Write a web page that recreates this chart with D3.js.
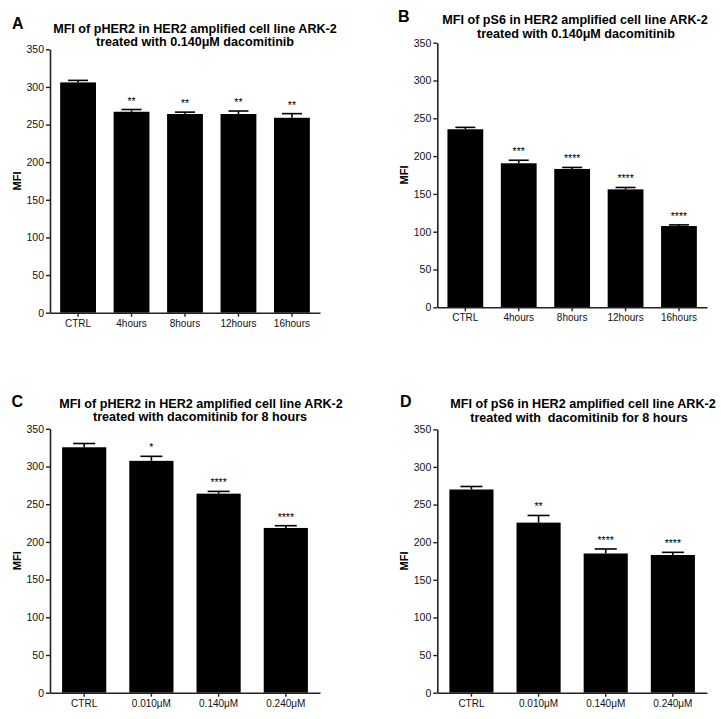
<!DOCTYPE html>
<html>
<head>
<meta charset="utf-8">
<script src="https://cdn.jsdelivr.net/npm/d3@7"></script>
<style>
  html, body { margin: 0; padding: 0; background: #fff; }
  svg { display: block; }
  text { font-family: "Liberation Sans", Arial, sans-serif; -webkit-font-smoothing: antialiased; }
</style>
</head>
<body>
<svg id="chart" width="721" height="719"></svg>
<script>
// ---------- data ----------
const catsTime = ["CTRL", "4hours", "8hours", "12hours", "16hours"];
const catsDose = ["CTRL", "0.010\u03BCM", "0.140\u03BCM", "0.240\u03BCM"];
const yTicks = [0, 50, 100, 150, 200, 250, 300, 350];

const valuesA = [306, 267, 264, 264, 259];
const errorsA = [2.7, 3, 2.5, 4, 5.5];
const starsA = ["", "**", "**", "**", "**"];

const valuesB = [235.5, 190.5, 183, 156, 107.5];
const errorsB = [2.5, 4, 2, 2.5, 1.5];
const starsB = ["", "***", "****", "****", "****"];

const valuesC = [325.5, 307.5, 264, 218.5];
const errorsC = [5, 6, 3, 3];
const starsC = ["", "*", "****", "****"];

const valuesD = [270, 226, 185, 183];
const errorsD = [4, 9.5, 6, 3.5];
const starsD = ["", "**", "****", "****"];

const titleA = ["MFI of pHER2 in HER2 amplified cell line ARK-2", "treated with 0.140\u03BCM dacomitinib"];
const titleB = ["MFI of pS6 in HER2 amplified cell line ARK-2", "treated with 0.140\u03BCM dacomitinib"];
const titleC = ["MFI of pHER2 in HER2 amplified cell line ARK-2", "treated with dacomitinib for 8 hours"];
const titleD = ["MFI of pS6 in HER2 amplified cell line ARK-2", "treated with\u00A0 dacomitinib for 8 hours"];
const yLabel = "MFI";

// ---------- drawing ----------
const svg = d3.select("#chart");
const axisColor = "#222";

function panel(opt) {
  const g = svg.append("g");
  const x = d3.scaleBand().domain(opt.cats).range([opt.x0, opt.x1])
    .paddingInner(opt.pi).paddingOuter(opt.po);
  const y = d3.scaleLinear().domain([0, 350]).range([opt.yb, opt.yt]);

  // bars
  g.selectAll("rect.bar").data(opt.values).enter().append("rect")
    .attr("x", (d, i) => x(opt.cats[i]))
    .attr("width", x.bandwidth())
    .attr("y", d => y(d))
    .attr("height", d => y(0) - y(d))
    .attr("fill", "#000");

  // error bars (upper)
  const capW = opt.capW;
  opt.values.forEach((v, i) => {
    const cx = x(opt.cats[i]) + x.bandwidth() / 2;
    const top = y(v + opt.errors[i]);
    g.append("line").attr("x1", cx).attr("x2", cx).attr("y1", y(v)).attr("y2", top)
      .attr("stroke", "#000").attr("stroke-width", 1.6);
    g.append("line").attr("x1", cx - capW / 2).attr("x2", cx + capW / 2).attr("y1", top).attr("y2", top)
      .attr("stroke", "#000").attr("stroke-width", 1.6);
    if (opt.stars[i]) {
      g.append("text").attr("x", cx).attr("y", top - 5)
        .attr("text-anchor", "middle").attr("font-size", 10.5)
        .attr("fill", "#000").text(opt.stars[i]);
    }
  });

  // y axis
  const ya = g.append("g").attr("transform", `translate(${opt.x0},0)`)
    .call(d3.axisLeft(y).tickValues(yTicks).tickSize(4).tickSizeOuter(0).tickPadding(2));
  ya.select(".domain").attr("stroke", axisColor).attr("stroke-width", 1.6);
  ya.selectAll(".tick line").attr("stroke", axisColor).attr("stroke-width", 1.4);
  ya.selectAll(".tick text").attr("font-size", 10.5).attr("fill", "#111")
    .attr("font-family", "Liberation Sans, Arial, sans-serif");

  // x axis
  const xa = g.append("g").attr("transform", `translate(0,${opt.yb})`)
    .call(d3.axisBottom(x).tickSize(4).tickSizeOuter(0).tickPadding(3));
  xa.select(".domain").attr("stroke", axisColor).attr("stroke-width", 1.6);
  xa.selectAll(".tick line").attr("stroke", axisColor).attr("stroke-width", 1.4);
  xa.selectAll(".tick text").attr("font-size", 10).attr("fill", "#111")
    .attr("font-family", "Liberation Sans, Arial, sans-serif");

  // y label
  g.append("text")
    .attr("transform", `translate(${opt.ylx},${(opt.yt + opt.yb) / 2}) rotate(-90)`)
    .attr("text-anchor", "middle").attr("font-size", 11).attr("font-weight", "bold")
    .attr("fill", "#000").text(yLabel);

  // title
  opt.title.forEach((t, i) => {
    g.append("text").attr("x", opt.tcx[i]).attr("y", opt.tby[i])
      .attr("text-anchor", "middle").attr("font-size", 12.6).attr("font-weight", "bold")
      .attr("fill", "#000").text(t);
  });

  // panel letter
  g.append("text").attr("x", opt.lx).attr("y", opt.ly)
    .attr("font-family", "Liberation Serif, Times New Roman, serif")
    .attr("font-size", 16).attr("font-weight", "bold").attr("fill", "#000").text(opt.letter);
}

panel({ cats: catsTime, values: valuesA, errors: errorsA, stars: starsA, title: titleA,
  x0: 50, x1: 320, yt: 49.3, yb: 312.7, pi: 0.33, po: 0.19, capW: 20,
  ylx: 21, tcx: [195, 195], tby: [32.5, 45.5], letter: "A", lx: 12, ly: 29 });
panel({ cats: catsTime, values: valuesB, errors: errorsB, stars: starsB, title: titleB,
  x0: 437.3, x1: 707, yt: 42.7, yb: 307.3, pi: 0.33, po: 0.19, capW: 20,
  ylx: 408, tcx: [575, 576], tby: [24.3, 38], letter: "B", lx: 398, ly: 22 });
panel({ cats: catsDose, values: valuesC, errors: errorsC, stars: starsC, title: titleC,
  x0: 50, x1: 320, yt: 428.8, yb: 692.7, pi: 0.343, po: 0.18, capW: 22,
  ylx: 21, tcx: [201, 200], tby: [407.7, 421], letter: "C", lx: 11.5, ly: 407 });
panel({ cats: catsDose, values: valuesD, errors: errorsD, stars: starsD, title: titleD,
  x0: 437.3, x1: 707, yt: 429.3, yb: 692.7, pi: 0.343, po: 0.18, capW: 22,
  ylx: 408, tcx: [583, 579], tby: [407.7, 422], letter: "D", lx: 400, ly: 407 });
</script>
</body>
</html>
